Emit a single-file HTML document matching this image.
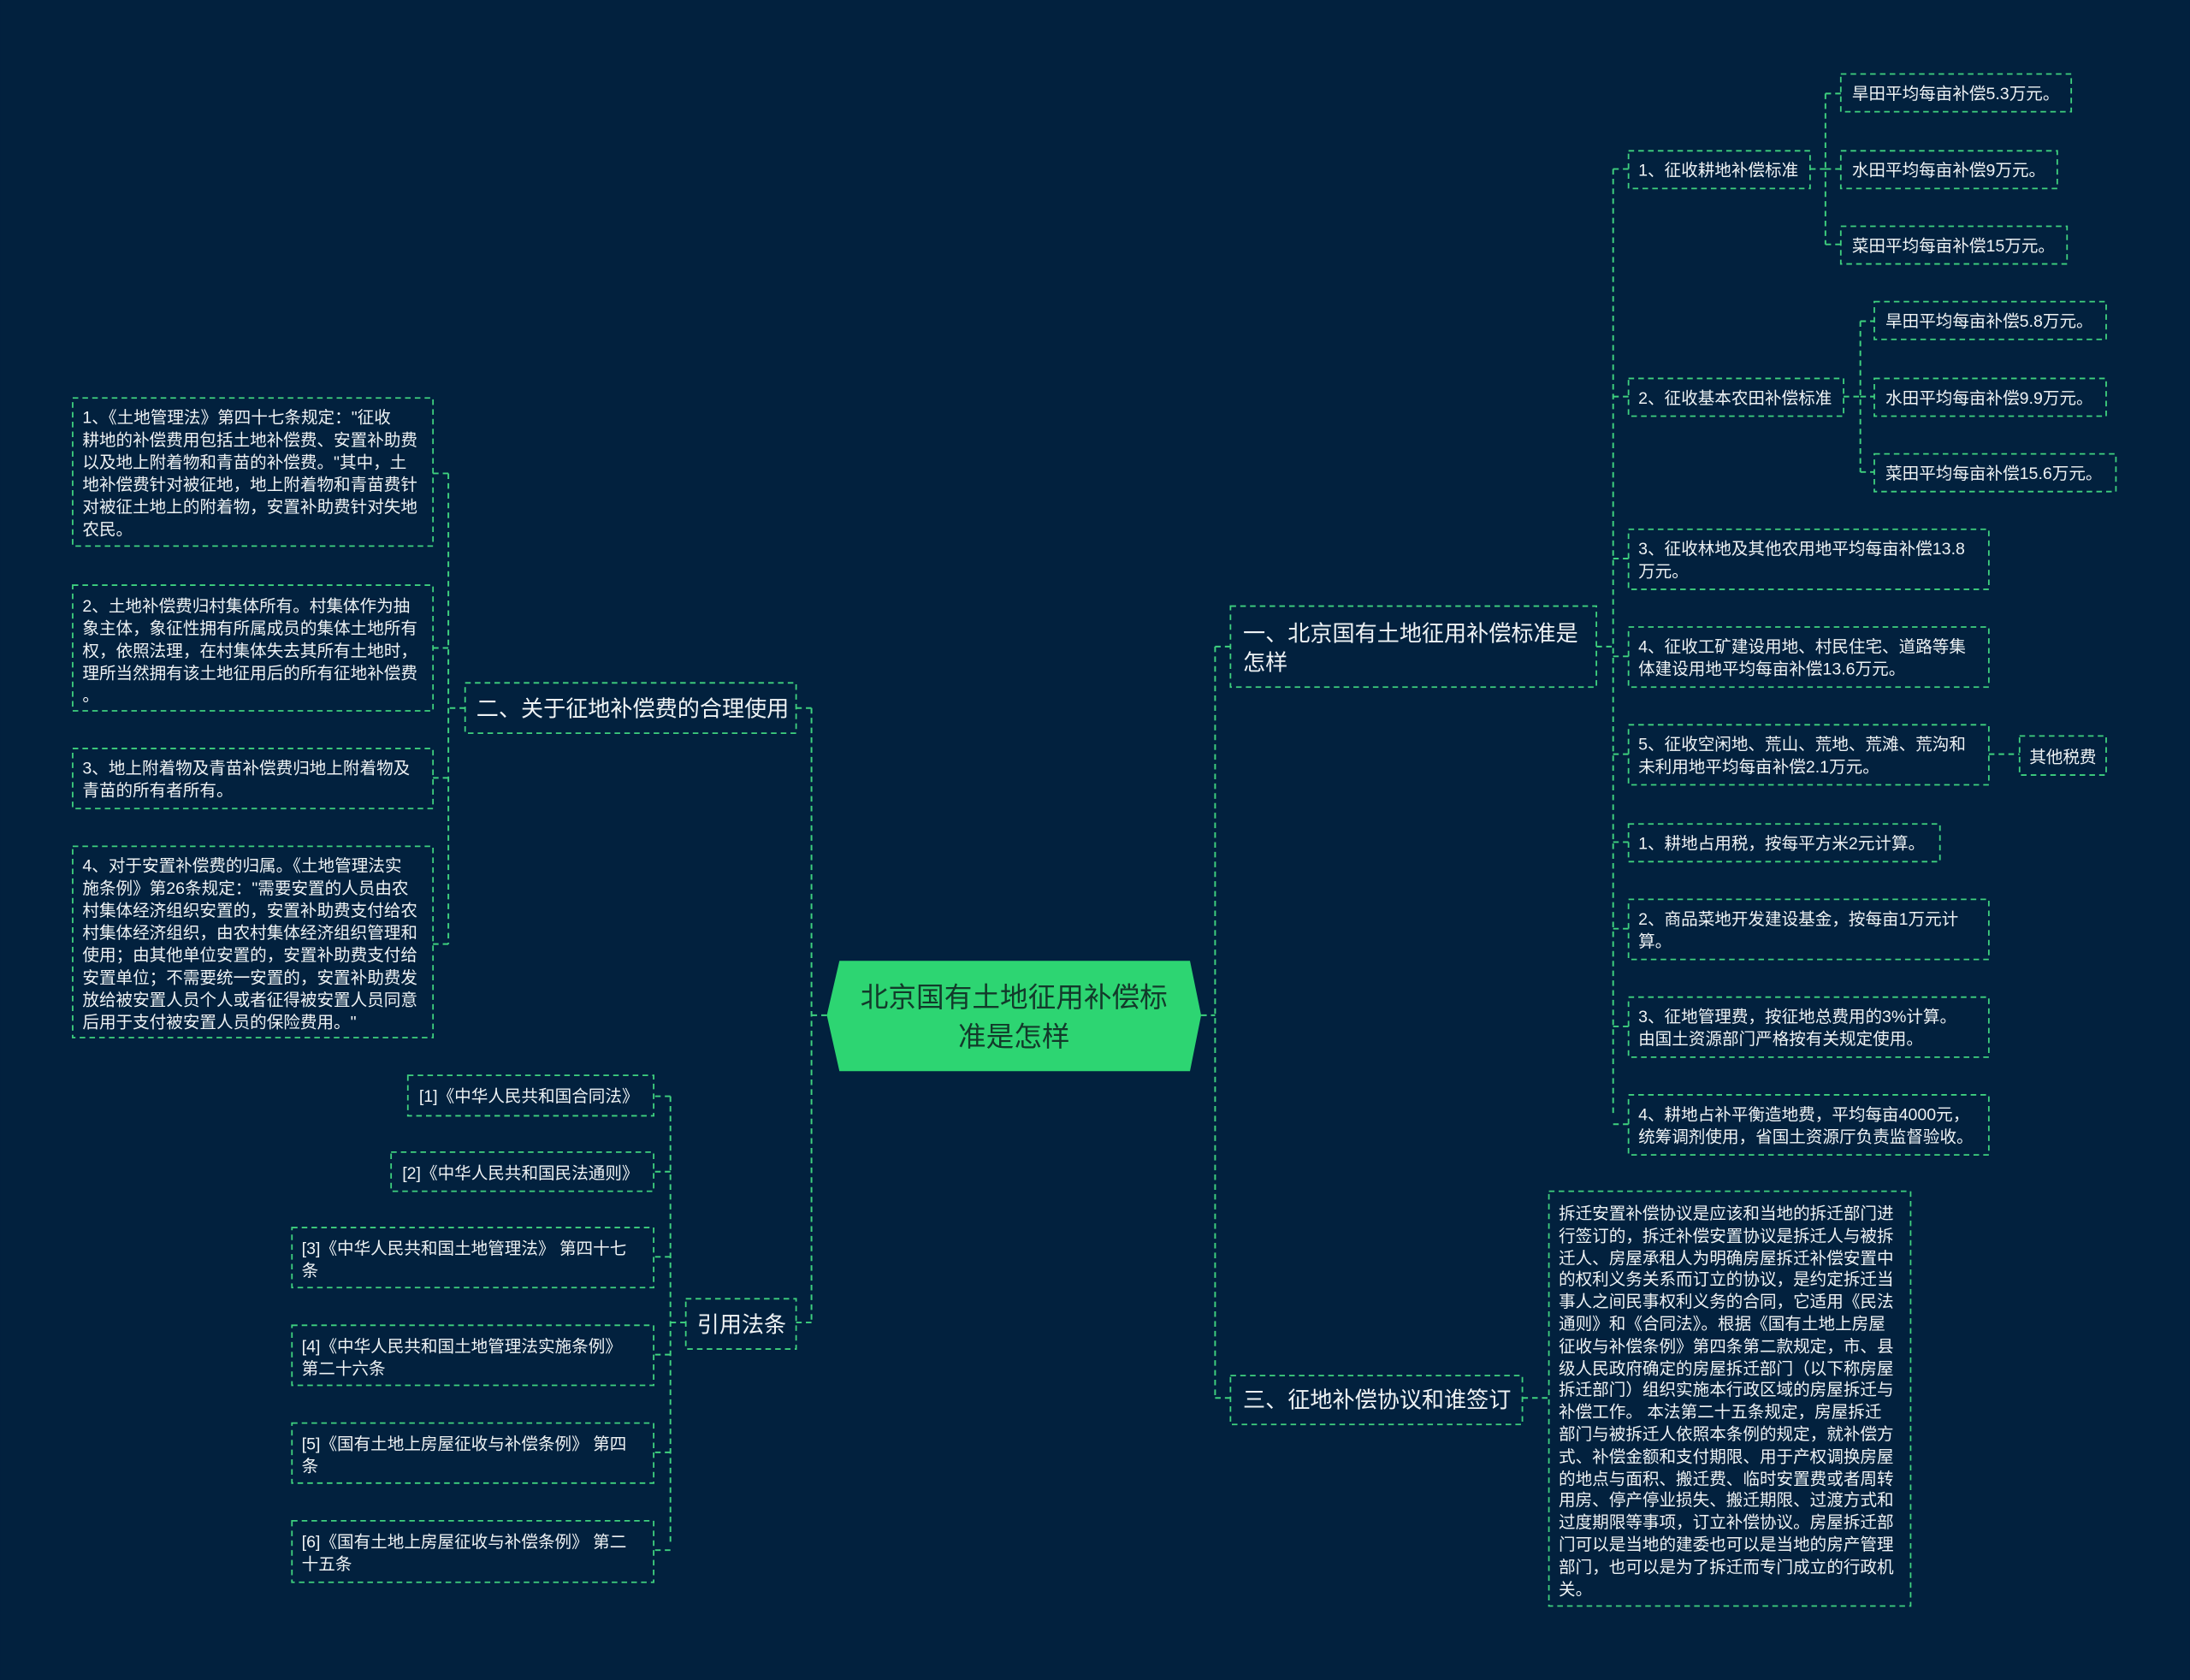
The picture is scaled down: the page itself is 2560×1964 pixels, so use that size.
<!DOCTYPE html>
<html><head><meta charset="utf-8"><style>
html,body{margin:0;padding:0;background:#02213e;}
svg{display:block}
text{font-family:"Liberation Sans","Noto Sans CJK SC",sans-serif;fill:#eef2f4;}
.s{font-size:12px}.m{font-size:16px}
.b{fill:none;stroke:#3fd17f;stroke-width:1.1;stroke-dasharray:4 3}
.l{fill:none;stroke:#3fd17f;stroke-width:1.2;stroke-dasharray:4 3}
</style></head><body>
<svg width="2560" height="1964" viewBox="0 0 1568 1203" xmlns="http://www.w3.org/2000/svg">
<rect width="1568" height="1203" fill="#02213e"/>
<!-- connectors -->
<path class="l" d="M860 727H870M870 463V1001M870 463H881M870 1001H881"/>
<path class="l" d="M1143 463H1155M1155 121V800M1155 121H1166M1155 284H1166M1155 400H1166M1155 470H1166M1155 540H1166M1155 603H1166M1155 665H1166M1155 735H1166M1155 805H1166"/>
<path class="l" d="M1296 121H1307M1307 67V175M1307 67H1318M1307 121H1318M1307 175H1318"/>
<path class="l" d="M1320 284H1332M1332 230V338M1332 230H1342M1332 284H1342M1332 338H1342"/>
<path class="l" d="M1424 540H1446"/>
<path class="l" d="M1090 1001H1109"/>
<path class="l" d="M592 727H581M581 507V947M581 507H570M581 947H570"/>
<path class="l" d="M333 507H321M321 339V676M321 339H310M321 464H310M321 557H310M321 676H310"/>
<path class="l" d="M491 947H480M480 785V1105M480 785H468M480 839H468M480 900H468M480 970H468M480 1040H468M480 1110H468"/>
<!-- center -->
<polygon points="601,688 852,688 860,727 852,767 601,767 592,727" fill="#2dd572"/>
<text x="726" y="721" text-anchor="middle" style="font-size:20px;fill:#123a2a">北京国有土地征用补偿标</text>
<text x="726" y="749" text-anchor="middle" style="font-size:20px;fill:#123a2a">准是怎样</text>
<!-- right main -->
<rect class="b" x="881" y="434" width="262" height="58"/>
<text class="m" x="890" y="459">一、北京国有土地征用补偿标准是</text>
<text class="m" x="890" y="480">怎样</text>
<rect class="b" x="881" y="985" width="209" height="35"/>
<text class="m" x="890" y="1008">三、征地补偿协议和谁签订</text>
<!-- right children -->
<rect class="b" x="1166" y="108" width="130" height="27"/><text class="s" x="1173" y="126">1、征收耕地补偿标准</text>
<rect class="b" x="1318" y="53" width="165" height="27"/><text class="s" x="1326" y="71">旱田平均每亩补偿5.3万元。</text>
<rect class="b" x="1318" y="108" width="155" height="27"/><text class="s" x="1326" y="126">水田平均每亩补偿9万元。</text>
<rect class="b" x="1318" y="162" width="162" height="27"/><text class="s" x="1326" y="180">菜田平均每亩补偿15万元。</text>
<rect class="b" x="1166" y="271" width="154" height="27"/><text class="s" x="1173" y="289">2、征收基本农田补偿标准</text>
<rect class="b" x="1342" y="216" width="166" height="27"/><text class="s" x="1350" y="234">旱田平均每亩补偿5.8万元。</text>
<rect class="b" x="1342" y="271" width="166" height="27"/><text class="s" x="1350" y="289">水田平均每亩补偿9.9万元。</text>
<rect class="b" x="1342" y="325" width="173" height="27"/><text class="s" x="1350" y="343">菜田平均每亩补偿15.6万元。</text>
<rect class="b" x="1166" y="379" width="258" height="43"/><text class="s" x="1173" y="397">3、征收林地及其他农用地平均每亩补偿13.8</text><text class="s" x="1173" y="413">万元。</text>
<rect class="b" x="1166" y="449" width="258" height="43"/><text class="s" x="1173" y="467">4、征收工矿建设用地、村民住宅、道路等集</text><text class="s" x="1173" y="483">体建设用地平均每亩补偿13.6万元。</text>
<rect class="b" x="1166" y="519" width="258" height="43"/><text class="s" x="1173" y="537">5、征收空闲地、荒山、荒地、荒滩、荒沟和</text><text class="s" x="1173" y="553">未利用地平均每亩补偿2.1万元。</text>
<rect class="b" x="1446" y="527" width="62" height="28"/><text class="s" x="1453" y="546">其他税费</text>
<rect class="b" x="1166" y="590" width="223" height="27"/><text class="s" x="1173" y="608">1、耕地占用税，按每平方米2元计算。</text>
<rect class="b" x="1166" y="644" width="258" height="43"/><text class="s" x="1173" y="662">2、商品菜地开发建设基金，按每亩1万元计</text><text class="s" x="1173" y="678">算。</text>
<rect class="b" x="1166" y="714" width="258" height="43"/><text class="s" x="1173" y="732">3、征地管理费，按征地总费用的3%计算。</text><text class="s" x="1173" y="748">由国土资源部门严格按有关规定使用。</text>
<rect class="b" x="1166" y="784" width="258" height="43"/><text class="s" x="1173" y="802">4、耕地占补平衡造地费，平均每亩4000元，</text><text class="s" x="1173" y="818">统筹调剂使用，省国土资源厅负责监督验收。</text>
<!-- node 三 child -->
<rect class="b" x="1109" y="853" width="259" height="297"/>
<g class="s">
<text class="s" x="1116" y="873">拆迁安置补偿协议是应该和当地的拆迁部门进</text>
<text class="s" x="1116" y="889">行签订的，拆迁补偿安置协议是拆迁人与被拆</text>
<text class="s" x="1116" y="905">迁人、房屋承租人为明确房屋拆迁补偿安置中</text>
<text class="s" x="1116" y="920">的权利义务关系而订立的协议，是约定拆迁当</text>
<text class="s" x="1116" y="936">事人之间民事权利义务的合同，它适用《民法</text>
<text class="s" x="1116" y="952">通则》和《合同法》。根据《国有土地上房屋</text>
<text class="s" x="1116" y="968">征收与补偿条例》第四条第二款规定，市、县</text>
<text class="s" x="1116" y="984">级人民政府确定的房屋拆迁部门（以下称房屋</text>
<text class="s" x="1116" y="999">拆迁部门）组织实施本行政区域的房屋拆迁与</text>
<text class="s" x="1116" y="1015">补偿工作。 本法第二十五条规定，房屋拆迁</text>
<text class="s" x="1116" y="1031">部门与被拆迁人依照本条例的规定，就补偿方</text>
<text class="s" x="1116" y="1047">式、补偿金额和支付期限、用于产权调换房屋</text>
<text class="s" x="1116" y="1063">的地点与面积、搬迁费、临时安置费或者周转</text>
<text class="s" x="1116" y="1078">用房、停产停业损失、搬迁期限、过渡方式和</text>
<text class="s" x="1116" y="1094">过度期限等事项，订立补偿协议。房屋拆迁部</text>
<text class="s" x="1116" y="1110">门可以是当地的建委也可以是当地的房产管理</text>
<text class="s" x="1116" y="1126">部门，也可以是为了拆迁而专门成立的行政机</text>
<text class="s" x="1116" y="1142">关。</text>
</g>
<!-- left -->
<rect class="b" x="333" y="489" width="237" height="36"/>
<text class="m" x="341" y="513">二、关于征地补偿费的合理使用</text>
<rect class="b" x="52" y="285" width="258" height="106"/>
<text class="s" x="59" y="303">1、《土地管理法》第四十七条规定："征收</text>
<text class="s" x="59" y="319">耕地的补偿费用包括土地补偿费、安置补助费</text>
<text class="s" x="59" y="335">以及地上附着物和青苗的补偿费。"其中，土</text>
<text class="s" x="59" y="351">地补偿费针对被征地，地上附着物和青苗费针</text>
<text class="s" x="59" y="367">对被征土地上的附着物，安置补助费针对失地</text>
<text class="s" x="59" y="383">农民。</text>
<rect class="b" x="52" y="419" width="258" height="90"/>
<text class="s" x="59" y="438">2、土地补偿费归村集体所有。村集体作为抽</text>
<text class="s" x="59" y="454">象主体，象征性拥有所属成员的集体土地所有</text>
<text class="s" x="59" y="470">权，依照法理，在村集体失去其所有土地时，</text>
<text class="s" x="59" y="486">理所当然拥有该土地征用后的所有征地补偿费</text>
<text class="s" x="59" y="502">。</text>
<rect class="b" x="52" y="536" width="258" height="43"/>
<text class="s" x="59" y="554">3、地上附着物及青苗补偿费归地上附着物及</text>
<text class="s" x="59" y="570">青苗的所有者所有。</text>
<rect class="b" x="52" y="606" width="258" height="137"/>
<text class="s" x="59" y="624">4、对于安置补偿费的归属。《土地管理法实</text>
<text class="s" x="59" y="640">施条例》第26条规定："需要安置的人员由农</text>
<text class="s" x="59" y="656">村集体经济组织安置的，安置补助费支付给农</text>
<text class="s" x="59" y="672">村集体经济组织，由农村集体经济组织管理和</text>
<text class="s" x="59" y="688">使用；由其他单位安置的，安置补助费支付给</text>
<text class="s" x="59" y="704">安置单位；不需要统一安置的，安置补助费发</text>
<text class="s" x="59" y="720">放给被安置人员个人或者征得被安置人员同意</text>
<text class="s" x="59" y="736">后用于支付被安置人员的保险费用。"</text>
<rect class="b" x="491" y="930" width="79" height="36"/>
<text class="m" x="499" y="954">引用法条</text>
<rect class="b" x="292" y="770" width="176" height="29"/><text class="s" x="300" y="789">[1]《中华人民共和国合同法》</text>
<rect class="b" x="280" y="825" width="188" height="28"/><text class="s" x="288" y="844">[2]《中华人民共和国民法通则》</text>
<rect class="b" x="209" y="879" width="259" height="43"/><text class="s" x="216" y="898">[3]《中华人民共和国土地管理法》 第四十七</text><text class="s" x="216" y="914">条</text>
<rect class="b" x="209" y="949" width="259" height="43"/><text class="s" x="216" y="968">[4]《中华人民共和国土地管理法实施条例》</text><text class="s" x="216" y="984">第二十六条</text>
<rect class="b" x="209" y="1019" width="259" height="43"/><text class="s" x="216" y="1038">[5]《国有土地上房屋征收与补偿条例》 第四</text><text class="s" x="216" y="1054">条</text>
<rect class="b" x="209" y="1089" width="259" height="44"/><text class="s" x="216" y="1108">[6]《国有土地上房屋征收与补偿条例》 第二</text><text class="s" x="216" y="1124">十五条</text>
</svg>
</body></html>
